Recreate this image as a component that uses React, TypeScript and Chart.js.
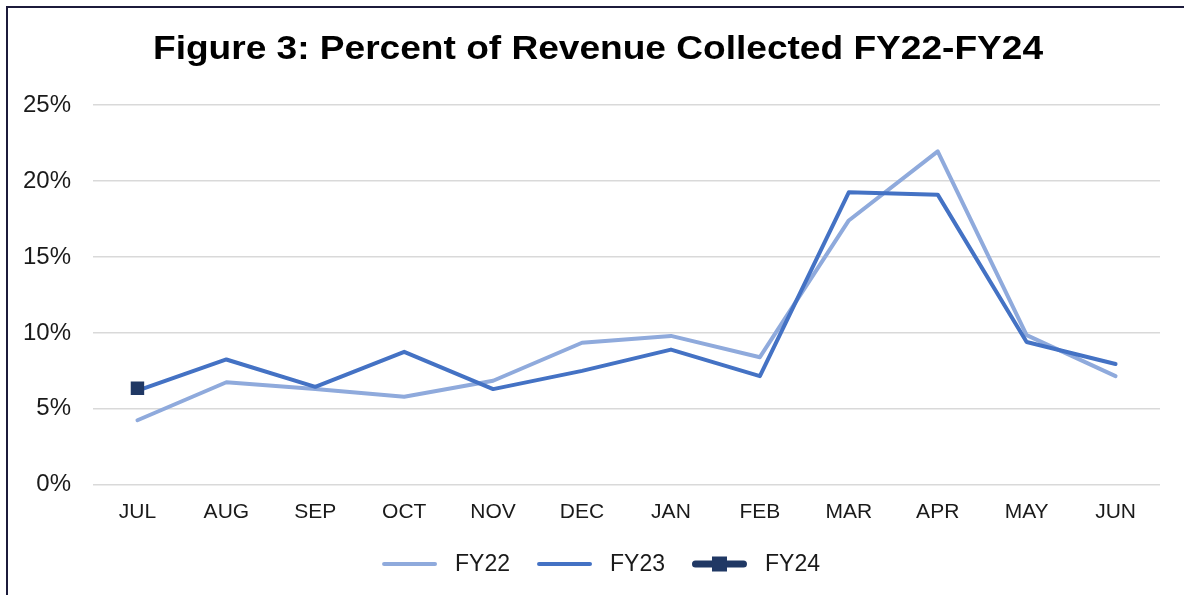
import React, { useEffect, useRef } from "react";
import { Chart, registerables } from "chart.js";

Chart.register(...registerables);

const TITLE = "Figure 3: Percent of Revenue Collected FY22-FY24";
const MONTHS = ["JUL", "AUG", "SEP", "OCT", "NOV", "DEC", "JAN", "FEB", "MAR", "APR", "MAY", "JUN"];
const FY22 = [4.25, 6.75, 6.3, 5.8, 6.85, 9.35, 9.8, 8.4, 17.4, 21.95, 9.85, 7.15];
const FY23 = [6.2, 8.25, 6.45, 8.75, 6.3, 7.5, 8.9, 7.15, 19.25, 19.1, 9.4, 7.95];
const FY24 = [6.35, null, null, null, null, null, null, null, null, null, null, null];
const Y_TICKS = [0, 5, 10, 15, 20, 25];

const FONT = "'Liberation Sans', Arial, sans-serif";

export default function App() {
  const ref = useRef<HTMLCanvasElement | null>(null);

  useEffect(() => {
    document.body.style.margin = "0";
    const canvas = ref.current;
    if (!canvas) return;

    const legendItems = [
      { label: "FY22", color: "#8FAADC", width: 4, marker: false },
      { label: "FY23", color: "#4472C4", width: 4, marker: false },
      { label: "FY24", color: "#203864", width: 7, marker: true },
    ];

    const framePlugin = {
      id: "framePlugin",
      afterDraw(chart: any) {
        const ctx = chart.ctx;
        ctx.save();
        ctx.fillStyle = "#1c1b3b";
        ctx.fillRect(6, 6, chart.width - 6, 2);
        ctx.fillRect(6, 6, 2, chart.height - 6);

        // title (horizontally widened like the reference rendering)
        ctx.font = `bold 34px ${FONT}`;
        ctx.fillStyle = "#000000";
        ctx.textBaseline = "alphabetic";
        ctx.textAlign = "left";
        const tw = ctx.measureText(TITLE).width;
        const targetW = 890;
        const sx = targetW / tw;
        ctx.save();
        ctx.translate(598 - targetW / 2, 59);
        ctx.scale(sx, 1);
        ctx.fillText(TITLE, 0, 0);
        ctx.restore();

        // legend
        ctx.font = `23px ${FONT}`;
        const lineLen = 55;
        const gapText = 18;
        const gapItem = 27;
        const widths = legendItems.map((it) => lineLen + gapText + ctx.measureText(it.label).width);
        const total = widths.reduce((a, b) => a + b, 0) + gapItem * (legendItems.length - 1);
        let x = 601 - total / 2;
        const y = 564;
        legendItems.forEach((it, i) => {
          ctx.strokeStyle = it.color;
          ctx.lineWidth = it.width;
          ctx.lineCap = "round";
          ctx.beginPath();
          ctx.moveTo(x + it.width / 2, y);
          ctx.lineTo(x + lineLen - it.width / 2, y);
          ctx.stroke();
          if (it.marker) {
            ctx.fillStyle = it.color;
            ctx.fillRect(x + lineLen / 2 - 7.5, y - 7.5, 15, 15);
          }
          ctx.fillStyle = "#1a1a1a";
          ctx.textBaseline = "middle";
          ctx.textAlign = "left";
          ctx.fillText(it.label, x + lineLen + gapText, y + 1);
          x += widths[i] + gapItem;
        });
        ctx.restore();
      },
    };

    const chart = new Chart(canvas, {
      type: "line",
      data: {
        labels: MONTHS,
        datasets: [
          {
            label: "FY24",
            data: FY24,
            borderColor: "#203864",
            backgroundColor: "#203864",
            borderWidth: 7,
            pointStyle: "rect",
            pointRadius: 9.5,
            pointBorderWidth: 0,
            order: 0,
          },
          {
            label: "FY23",
            data: FY23,
            borderColor: "#4472C4",
            backgroundColor: "#4472C4",
            borderWidth: 4,
            pointRadius: 0,
            tension: 0,
            borderCapStyle: "round",
            borderJoinStyle: "round",
            order: 1,
          },
          {
            label: "FY22",
            data: FY22,
            borderColor: "#8FAADC",
            backgroundColor: "#8FAADC",
            borderWidth: 4,
            pointRadius: 0,
            tension: 0,
            borderCapStyle: "round",
            borderJoinStyle: "round",
            order: 2,
          },
        ],
      },
      options: {
        responsive: false,
        maintainAspectRatio: false,
        animation: false,
        layout: { padding: { left: 0, right: 24, top: 105, bottom: 55 } },
        plugins: {
          legend: { display: false },
          tooltip: { enabled: false },
          title: { display: false },
        },
        scales: {
          x: {
            offset: true,
            grid: { display: false, drawTicks: false },
            border: { display: false },
            ticks: {
              color: "#1a1a1a",
              font: { family: FONT, size: 21 },
              padding: 15,
              maxRotation: 0,
              autoSkip: false,
            },
          },
          y: {
            min: 0,
            max: 25,
            afterBuildTicks: (axis: any) => {
              axis.ticks = Y_TICKS.map((v) => ({ value: v }));
            },
            afterFit: (axis: any) => {
              axis.width = 93;
            },
            grid: { color: "#d9d9d9", lineWidth: 1.5, drawTicks: false },
            border: { display: false },
            ticks: {
              color: "#1a1a1a",
              font: { family: FONT, size: 24 },
              padding: 22,
              callback: (v: any) => `${v}%`,
            },
          },
        },
      },
      plugins: [framePlugin],
    });

    return () => chart.destroy();
  }, []);

  return (
    <div style={{ position: "absolute", left: 0, top: 0, width: 1184, height: 595, background: "#fff" }}>
      <canvas ref={ref} width={1184} height={595} />
    </div>
  );
}
